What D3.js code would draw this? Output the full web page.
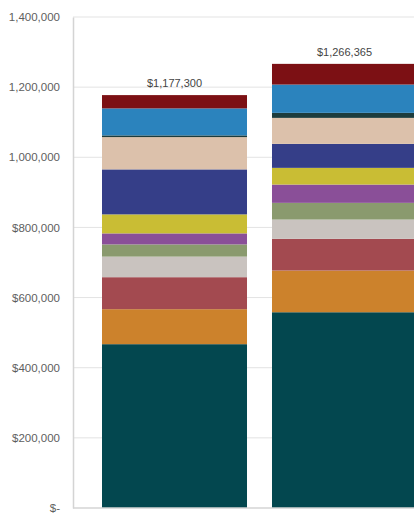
<!DOCTYPE html>
<html><head><meta charset="utf-8">
<script src="https://cdn.jsdelivr.net/npm/d3@7"></script>
<style>
html,body{margin:0;padding:0;background:#fff;overflow:hidden}
svg{display:block}
</style></head>
<body>
<svg id="chart" width="414" height="513"></svg>
<script>
const categories = ["A", "B"];
const totals = [1177300, 1266365];
const totalLabels = ["$1,177,300", "$1,266,365"];
// segments, bottom to top
const segTeal      = [467100, 558165];
const segOrange    = [99800, 118900];
const segRed       = [91200, 90400];
const segLightGray = [58700, 55000];
const segGreen     = [34800, 47600];
const segPurple    = [31400, 52200];
const segYellow    = [54200, 47600];
const segNavy      = [128300, 68400];
const segTan       = [92100, 74100];
const segDark      = [4800, 14300];
const segBlue      = [77000, 80700];
const segDarkRed   = [37900, 59000];
const seriesNames = ["teal","orange","red","lightgray","green","purple","yellow","navy","tan","dark","blue","darkred"];
const seriesValues = [segTeal, segOrange, segRed, segLightGray, segGreen, segPurple, segYellow, segNavy, segTan, segDark, segBlue, segDarkRed];
const seriesColors = ["#03474f","#cc822c","#a34a50","#c9c3bf","#8a9a6e","#8a4f98","#c9bd34","#353e88","#dcc1ab","#1c3c3d","#2b83bd","#7c1014"];
const tickValues = [0, 200000, 400000, 600000, 800000, 1000000, 1200000, 1400000];
const tickLabels = ["$-", "$200,000", "$400,000", "$600,000", "$800,000", "1,000,000", "1,200,000", "1,400,000"];

const svg = d3.select("#chart");
const plotLeft = 73, plotRight = 444, plotTop = 17, plotBottom = 508;

const y = d3.scaleLinear().domain([0, 1400000]).range([plotBottom, plotTop]);
const x = d3.scaleBand().domain(categories).range([76.5, 442.5]).paddingInner(0.147).paddingOuter(0.15);

// gridlines
svg.append("g").selectAll("line").data(tickValues.slice(1)).join("line")
  .attr("x1", plotLeft).attr("x2", plotRight)
  .attr("y1", d => y(d)).attr("y2", d => y(d))
  .attr("stroke", "#e3e3e3").attr("stroke-width", 1);

// y axis
const yAxis = d3.axisLeft(y).tickValues(tickValues)
  .tickFormat((d, i) => tickLabels[i]).tickSize(0).tickPadding(13);
const gy = svg.append("g").attr("transform", `translate(${plotLeft},0)`).call(yAxis);
gy.select(".domain").attr("stroke", "#d4d4d4").attr("stroke-width", 1.5);
gy.selectAll("text").attr("font-family", "Liberation Sans, Arial, sans-serif")
  .attr("font-size", 11.5).attr("fill", "#5e5e5e");

// stacked data
const rows = categories.map((c, i) => {
  const r = {cat: c};
  seriesNames.forEach((s, k) => r[s] = seriesValues[k][i]);
  return r;
});
const stack = d3.stack().keys(seriesNames)(rows);

svg.append("g").selectAll("g").data(stack).join("g")
  .attr("fill", (d, k) => seriesColors[k])
  .selectAll("rect").data(d => d).join("rect")
  .attr("x", d => x(d.data.cat))
  .attr("width", x.bandwidth())
  .attr("y", d => y(d[1]))
  .attr("height", d => y(d[0]) - y(d[1]));

// bottom axis line
svg.append("line").attr("x1", plotLeft).attr("x2", plotRight)
  .attr("y1", y(0)).attr("y2", y(0)).attr("stroke", "#d4d4d4").attr("stroke-width", 1.5);

// total labels
svg.append("g").selectAll("text").data(categories).join("text")
  .attr("x", d => x(d) + x.bandwidth() / 2)
  .attr("y", (d, i) => y(totals[i]) - 8)
  .attr("text-anchor", "middle")
  .attr("font-family", "Liberation Sans, Arial, sans-serif")
  .attr("font-size", 11).attr("fill", "#444")
  .text((d, i) => totalLabels[i]);
</script>
</body></html>
